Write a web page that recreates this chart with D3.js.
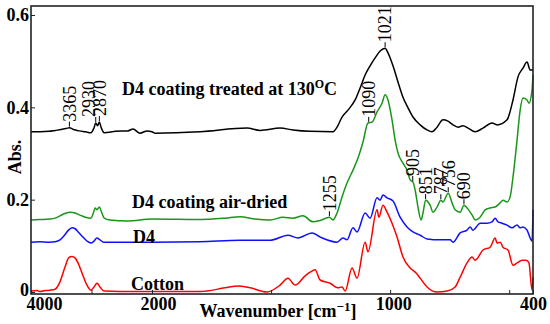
<!DOCTYPE html>
<html>
<head>
<meta charset="utf-8">
<script src="https://cdn.jsdelivr.net/npm/d3@7"></script>
<style>
  body { margin: 0; background: #fff; }
  text { font-family: "Liberation Serif", "Times New Roman", serif; }
</style>
</head>
<body>
<div id="chart"></div>
<script>
// [wavenumber cm-1, absorbance]
const cotton = [[4000,0.002],[3900,0.003],[3850,0.001],[3769,0.003],[3686,0.004],[3603,0.006],[3521,0.022],[3438,0.054],[3372,0.075],[3322,0.077],[3273,0.074],[3223,0.063],[3157,0.041],[3091,0.019],[3008,0.004],[2959,0.011],[2909,0.019],[2860,0.011],[2793,0.002],[2529,0.001],[2000,0.001],[1798,0.001],[1693,0.009],[1639,0.013],[1588,0.009],[1517,0.000],[1462,0.015],[1429,0.030],[1399,0.015],[1357,0.035],[1336,0.043],[1315,0.048],[1294,0.026],[1252,0.019],[1219,0.009],[1202,0.011],[1189,0.002],[1160,0.052],[1139,0.030],[1105,0.108],[1093,0.087],[1055,0.178],[1047,0.162],[1030,0.188],[1013,0.173],[992,0.149],[971,0.119],[946,0.076],[916,0.052],[891,0.041],[874,0.030],[845,0.011],[803,0.000],[761,0.002],[727,0.011],[706,0.032],[677,0.063],[656,0.076],[643,0.069],[610,0.091],[580,0.097],[559,0.117],[551,0.106],[538,0.108],[526,0.097],[505,0.091],[484,0.058],[467,0.063],[446,0.069],[429,0.069],[417,0.063],[404,0.004],[400,0.032]];

const d4 = [[4000,0.108],[3850,0.109],[3700,0.108],[3600,0.109],[3520,0.113],[3440,0.124],[3380,0.134],[3320,0.139],[3270,0.137],[3220,0.130],[3150,0.120],[3080,0.111],[3010,0.106],[2960,0.110],[2910,0.117],[2860,0.113],[2800,0.108],[2500,0.108],[2000,0.108],[1798,0.109],[1630,0.112],[1504,0.112],[1429,0.123],[1387,0.117],[1328,0.128],[1294,0.119],[1223,0.108],[1198,0.117],[1181,0.113],[1156,0.139],[1139,0.130],[1105,0.171],[1084,0.160],[1055,0.204],[1042,0.199],[1030,0.210],[1013,0.204],[988,0.197],[958,0.162],[929,0.141],[904,0.130],[874,0.123],[845,0.115],[790,0.113],[748,0.113],[736,0.108],[706,0.128],[677,0.134],[664,0.141],[652,0.134],[622,0.149],[593,0.149],[572,0.152],[559,0.160],[547,0.152],[530,0.149],[509,0.145],[488,0.139],[467,0.145],[454,0.139],[442,0.141],[425,0.134],[412,0.117],[404,0.110],[400,0.178]];

const airDried = [[4000,0.156],[3850,0.157],[3700,0.158],[3600,0.160],[3520,0.165],[3440,0.170],[3360,0.173],[3270,0.171],[3200,0.167],[3100,0.162],[3010,0.160],[2960,0.175],[2940,0.182],[2910,0.178],[2870,0.184],[2840,0.175],[2790,0.160],[2700,0.156],[2400,0.154],[2000,0.158],[1798,0.157],[1693,0.160],[1630,0.163],[1567,0.158],[1504,0.156],[1450,0.162],[1408,0.160],[1366,0.165],[1324,0.152],[1294,0.155],[1255,0.162],[1240,0.156],[1223,0.171],[1202,0.206],[1181,0.236],[1156,0.264],[1135,0.290],[1114,0.325],[1093,0.366],[1076,0.368],[1055,0.390],[1034,0.409],[1021,0.427],[1009,0.416],[992,0.373],[979,0.329],[967,0.301],[946,0.279],[929,0.264],[916,0.243],[904,0.238],[895,0.221],[883,0.184],[870,0.156],[862,0.171],[851,0.199],[832,0.188],[820,0.173],[803,0.184],[787,0.199],[778,0.195],[756,0.214],[740,0.193],[727,0.178],[706,0.173],[690,0.188],[677,0.182],[656,0.167],[643,0.156],[622,0.162],[601,0.178],[580,0.182],[559,0.184],[538,0.193],[526,0.199],[509,0.195],[496,0.206],[484,0.249],[467,0.329],[454,0.394],[442,0.420],[425,0.416],[417,0.409],[404,0.438],[400,0.470]];

const treated = [[4000,0.347],[3850,0.347],[3700,0.348],[3600,0.350],[3500,0.352],[3420,0.354],[3365,0.356],[3300,0.352],[3200,0.349],[3100,0.347],[3010,0.345],[2960,0.355],[2930,0.366],[2900,0.360],[2870,0.368],[2840,0.356],[2790,0.345],[2600,0.348],[2400,0.349],[2314,0.353],[2198,0.344],[2082,0.349],[2000,0.347],[1987,0.344],[1798,0.347],[1601,0.355],[1546,0.350],[1462,0.355],[1408,0.351],[1336,0.348],[1240,0.347],[1223,0.357],[1202,0.379],[1177,0.394],[1147,0.416],[1126,0.442],[1105,0.470],[1084,0.490],[1063,0.507],[1042,0.522],[1021,0.528],[1009,0.518],[988,0.490],[967,0.455],[946,0.422],[925,0.399],[904,0.379],[874,0.362],[845,0.351],[824,0.347],[803,0.357],[778,0.373],[757,0.370],[736,0.362],[715,0.357],[694,0.360],[673,0.355],[643,0.347],[610,0.355],[572,0.366],[551,0.362],[509,0.373],[484,0.416],[463,0.466],[442,0.485],[425,0.498],[412,0.481],[400,0.481]];

const xTicks = [4000, 3000, 2000, 1500, 1000, 500, 400];
const xTickLabels = [4000, 2000, 1000, 400];
const yTicks = [0, 0.2, 0.4, 0.6];

// peak annotations: label, which curve it sits on
const peakLabels = ["3365", "2930", "2870", "1021", "1090", "1255", "905", "851", "787", "756", "690"];
const peakCurves = ["treated", "treated", "treated", "treated", "airDried", "airDried", "airDried", "airDried", "airDried", "airDried", "airDried"];

const width = 550;
const height = 324;

const svg = d3.select("#chart")
    .append("svg")
    .attr("width", width)
    .attr("height", height);

// wavenumber axis is compressed above 2000
const x = d3.scaleLinear()
    .domain([4000, 2000, 400])
    .range([31, 152, 533]);

const y = d3.scaleLinear()
    .domain([0, 0.6])
    .range([292, 15]);

const line = d3.line()
    .x(d => x(d[0]))
    .y(d => y(d[1]))
    .curve(d3.curveMonotoneX);

const curves = [
    { name: "cotton", data: cotton, color: "#ff0000" },
    { name: "d4", data: d4, color: "#1010ff" },
    { name: "airDried", data: airDried, color: "#1a961a" },
    { name: "treated", data: treated, color: "#000000" }
];

svg.append("g")
    .selectAll("path")
    .data(curves)
    .enter()
    .append("path")
    .attr("d", d => line(d.data))
    .attr("fill", "none")
    .attr("stroke", d => d.color)
    .attr("stroke-width", 1.5);

// frame
svg.append("rect")
    .attr("x", 31)
    .attr("y", 6)
    .attr("width", 502)
    .attr("height", 288)
    .attr("fill", "none")
    .attr("stroke", "#222")
    .attr("stroke-width", 1.6);

// X axis
const xAxis = svg.append("g")
    .attr("transform", "translate(0,294)")
    .call(d3.axisBottom(x)
        .tickValues(xTicks)
        .tickSizeInner(-4)
        .tickSizeOuter(0)
        .tickPadding(3)
        .tickFormat(d => xTickLabels.includes(d) ? d : ""));
xAxis.select(".domain").remove();
xAxis.selectAll("line").attr("stroke", "#222");
xAxis.selectAll("text")
    .attr("fill", "#000")
    .style("font-size", "18px")
    .style("font-weight", "bold")
    .attr("dx", d => d === 4000 ? 13 : d === 2000 ? 6 : d === 1000 ? 3 : 0);

// Y axis
const yAxis = svg.append("g")
    .attr("transform", "translate(31,0)")
    .call(d3.axisLeft(y)
        .tickValues(yTicks)
        .tickSizeInner(-4)
        .tickSizeOuter(0)
        .tickPadding(2)
        .tickFormat(d => d === 0 ? "0" : d3.format(".1f")(d)));
yAxis.select(".domain").remove();
yAxis.selectAll("line").attr("stroke", "#222");
yAxis.selectAll("text")
    .attr("fill", "#000")
    .style("font-size", "18px")
    .style("font-weight", "bold")
    .attr("dy", d => d === 0 ? "0.2em" : "0.32em");

// axis titles
svg.append("text")
    .attr("transform", "translate(21,157) rotate(-90)")
    .attr("text-anchor", "middle")
    .style("font-size", "18px")
    .style("font-weight", "bold")
    .text("Abs.");

const xTitle = svg.append("text")
    .attr("x", 278)
    .attr("y", 317)
    .attr("text-anchor", "middle")
    .style("font-size", "18px")
    .style("font-weight", "bold");
xTitle.append("tspan").text("Wavenumber [cm");
xTitle.append("tspan").attr("dy", -6).style("font-size", "13px").text("\u22121");
xTitle.append("tspan").attr("dy", 6).text("]");

// curve names
const nameStyle = sel => sel.style("font-size", "18px").style("font-weight", "bold");

const t1 = svg.append("text").attr("x", 122).attr("y", 95).call(nameStyle);
t1.append("tspan").text("D4 coating treated at 130");
t1.append("tspan").attr("dy", -7).style("font-size", "12px").text("O");
t1.append("tspan").attr("dy", 7).text("C");

svg.append("text").attr("x", 132).attr("y", 208).call(nameStyle).text("D4 coating air-dried");
svg.append("text").attr("x", 133).attr("y", 243).call(nameStyle).text("D4");
svg.append("text").attr("x", 131).attr("y", 290).call(nameStyle).text("Cotton");

// value of a curve at a wavenumber (data sorted high -> low)
function valueAt(data, w) {
    const i = d3.bisector(d => -d[0]).left(data, -w);
    if (i <= 0) return data[0][1];
    if (i >= data.length) return data[data.length - 1][1];
    const a = data[i - 1], b = data[i];
    const t = (w - a[0]) / (b[0] - a[0]);
    return a[1] + t * (b[1] - a[1]);
}

const curveData = { treated: treated, airDried: airDried };

const peaks = svg.append("g");
peakLabels.forEach((lab, i) => {
    const w = +lab;
    const px = x(w);
    const py = y(valueAt(curveData[peakCurves[i]], w));
    peaks.append("line")
        .attr("x1", px).attr("x2", px)
        .attr("y1", py - 1).attr("y2", py - 6)
        .attr("stroke", "#000")
        .attr("stroke-width", 1);
    const shift = lab === "2930" ? -7 : 0;
    peaks.append("text")
        .attr("transform", `translate(${px + shift},${py - 6}) rotate(-90)`)
        .attr("dy", "0.35em")
        .style("font-size", "18px")
        .text(lab);
});
</script>
</body>
</html>
